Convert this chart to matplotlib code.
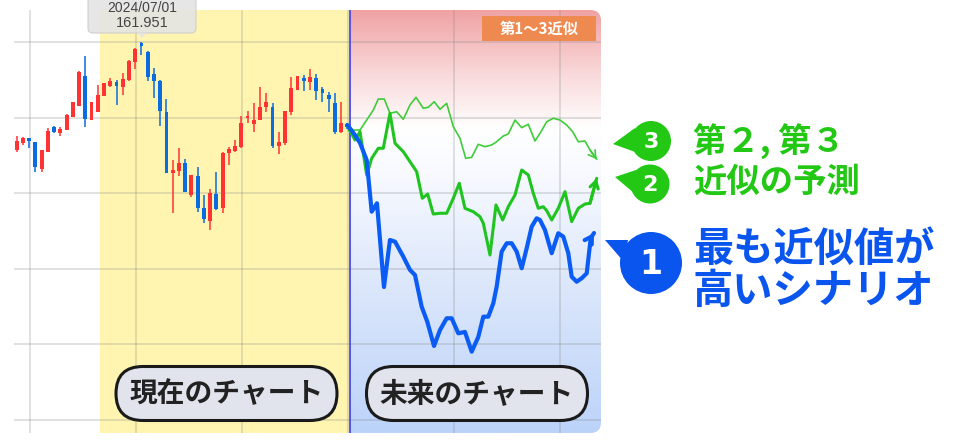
import numpy as np
import matplotlib.pyplot as plt
from matplotlib.patches import FancyBboxPatch, Circle, Polygon, Rectangle
from matplotlib.colors import LinearSegmentedColormap

plt.rcParams['font.family'] = ['Noto Sans CJK JP', 'DejaVu Sans']

# weekly candles (index 0 .. 53), price in yen
opens = [149.14, 149.98, 150.57, 150.10, 146.88, 148.94, 151.88, 151.20, 151.52, 153.07,
         154.42, 157.95, 152.71, 153.70, 155.61, 156.80, 157.27, 156.68, 157.48, 159.65,
         161.88, 160.85, 158.19, 157.39, 153.70, 146.37, 146.68, 147.63, 143.79, 146.08,
         142.20, 140.73, 143.90, 142.20, 148.79, 149.06, 149.54, 152.92, 152.24, 152.71,
         154.23, 154.23, 149.62, 149.94, 153.63, 156.29, 157.75, 157.27, 157.68, 156.37,
         155.69, 154.77, 151.32, 152.20]
highs = [150.85, 150.73, 150.61, 150.13, 149.20, 151.73, 151.99, 151.85, 153.43, 154.90,
         158.55, 160.37, 154.90, 156.88, 157.15, 157.68, 157.48, 158.31, 159.86, 161.29,
         161.95, 160.96, 158.90, 157.48, 155.21, 147.95, 149.42, 148.07, 146.20, 147.15,
         143.79, 144.50, 146.52, 148.94, 149.54, 150.33, 153.19, 153.79, 154.74, 156.68,
         155.93, 154.74, 151.29, 153.80, 157.87, 158.00, 158.07, 158.79, 158.15, 156.68,
         156.01, 155.89, 154.82, 152.36]
lows = [148.94, 149.74, 149.38, 146.56, 146.56, 148.90, 151.13, 150.85, 151.50, 153.03,
        154.40, 151.88, 152.70, 153.70, 155.60, 156.68, 154.50, 155.69, 157.40, 158.75,
        160.45, 157.39, 155.33, 152.04, 146.40, 141.68, 146.08, 144.15, 143.58, 141.80,
        140.42, 139.62, 142.00, 141.68, 147.36, 148.94, 149.38, 152.36, 151.32, 152.70,
        153.70, 149.42, 148.67, 149.74, 153.31, 156.28, 156.17, 156.29, 155.10, 154.89,
        153.70, 151.05, 151.13, 151.70]
closes = [150.21, 150.57, 150.21, 147.12, 149.14, 151.44, 151.29, 151.64, 153.31, 154.86,
          158.43, 152.83, 154.86, 155.69, 157.12, 157.36, 156.76, 157.60, 159.77, 161.13,
          161.52, 157.87, 157.39, 153.82, 146.44, 146.76, 147.63, 144.18, 146.17, 142.20,
          140.93, 144.00, 142.08, 148.79, 149.26, 149.62, 152.36, 153.11, 152.71, 154.30,
          154.89, 149.62, 150.06, 153.79, 156.49, 157.99, 157.36, 157.80, 156.20, 155.96,
          155.18, 151.32, 152.32, 151.92]

# scenario 1 (most similar)
s1_x = [53.0, 54.21, 55.02, 56.09, 56.89, 57.74, 58.86, 59.82, 60.63, 61.96,
        63.03, 63.83, 64.90, 65.80, 66.88, 67.84, 68.91, 69.71, 70.77, 71.84,
        72.92, 73.97, 74.78, 75.58, 76.38, 76.92, 77.72, 78.53, 79.33, 80.13,
        80.93, 81.73, 82.53, 83.33, 83.86, 84.66, 85.74, 86.79, 87.60, 88.40,
        88.94, 89.74, 90.54, 91.35, 91.99, 92.52]
s1_y = [152.12, 150.93, 149.98, 147.95, 141.80, 142.80, 132.83, 138.43, 138.23, 136.44,
        134.86, 134.26, 130.49, 128.70, 125.81, 127.71, 129.11, 129.11, 127.32, 127.48,
        125.13, 126.88, 129.30, 129.30, 130.89, 132.87, 137.04, 138.04, 138.04, 137.04,
        135.06, 137.44, 140.01, 141.01, 140.81, 139.62, 136.85, 139.23, 138.82, 136.85,
        134.06, 133.46, 133.87, 134.46, 138.63, 139.26]

# scenario 2
s2_x = [53.04, 54.21, 55.02, 56.09, 56.89, 57.95, 58.75, 59.82, 60.63, 61.96,
        63.03, 64.10, 65.0, 65.87, 66.76, 67.84, 68.91, 69.97, 70.93, 71.84,
        73.17, 74.25, 74.78, 75.85, 76.81, 77.88, 78.78, 79.86, 80.93, 81.99,
        82.79, 83.59, 84.39, 84.94, 85.74, 86.79, 87.87, 88.94, 90.0, 91.07,
        91.88, 92.95]
s2_y = [151.92, 150.33, 151.32, 146.17, 148.15, 149.35, 149.35, 153.51, 149.94, 148.94,
        147.75, 146.56, 143.39, 143.90, 141.52, 141.61, 141.61, 143.39, 145.18, 142.20,
        141.80, 141.20, 140.42, 136.64, 142.60, 140.81, 142.39, 143.79, 146.76, 146.17,
        143.99, 142.20, 142.39, 141.92, 140.81, 142.20, 144.18, 140.61, 142.20, 142.71,
        142.80, 145.77]

# scenario 3
s3_x = [53.04, 53.94, 55.02, 56.09, 57.15, 57.95, 58.91, 59.82, 60.90, 61.96,
        63.03, 63.99, 65.16, 65.96, 66.92, 67.84, 68.91, 69.97, 71.04, 71.96,
        72.92, 73.97, 75.05, 76.12, 76.92, 77.98, 78.78, 79.86, 80.93, 81.99,
        83.06, 84.02, 84.94, 86.0, 87.07, 88.14, 89.10, 90.0, 91.07, 91.88,
        92.95]
s3_y = [151.92, 151.52, 151.52, 152.71, 153.90, 155.21, 155.21, 153.51, 153.70, 152.80,
        154.50, 155.42, 154.11, 154.23, 154.89, 153.99, 154.70, 151.92, 150.54, 148.15,
        148.27, 149.82, 149.54, 149.74, 150.13, 150.81, 151.05, 152.71, 151.80, 152.20,
        150.21, 151.32, 152.51, 152.92, 152.71, 152.12, 151.32, 150.13, 150.21, 149.14,
        148.04]

price_grid = [117, 126, 135, 144, 153, 162]
week_grid = [2.1, 19.1, 36.1, 53.1, 70.1, 87.1]
now_idx = 53.41
past_start = 13.35

fig = plt.figure(figsize=(9.7, 4.4), dpi=100)
ax = fig.add_axes([14 / 970, 7 / 440, 587 / 970, 423 / 440])
ax.set_xlim(-0.43, 93.64)
ax.set_ylim(115.45, 165.81)
for s in ax.spines.values():
    s.set_visible(False)
ax.tick_params(length=0, labelbottom=False, labelleft=False)

# future background gradient (red -> white -> blue)
cmap = LinearSegmentedColormap.from_list('fut', [
    (0.0, '#bcd3f9'), (0.35, '#dce7fb'), (0.62, '#f8faff'), (0.72, '#ffffff'),
    (0.85, '#f9d9da'), (1.0, '#f0a2a4')])
grad = np.linspace(0, 1, 256).reshape(-1, 1)
im = ax.imshow(grad, cmap=cmap, aspect='auto', origin='lower',
               extent=[now_idx, 93.64, 115.45, 165.81], zorder=0)
clip = FancyBboxPatch((40, 115.45), 93.64 - 40, 165.81 - 115.45,
                      boxstyle='round,pad=0,rounding_size=1.7', mutation_aspect=0.74,
                      transform=ax.transData)
im.set_clip_path(clip)
ax.set_xlim(-0.43, 93.64)
ax.set_ylim(115.45, 165.81)

ax.axvspan(past_start, now_idx, color='#fff5b1', lw=0, zorder=1)

ax.set_xticks(week_grid)
ax.set_yticks(price_grid)
ax.set_axisbelow(False)
ax.grid(True, color='#8a8a8a', alpha=0.3, lw=1.2)

ax.axvline(now_idx, color='#4b4bf0', lw=1.3, zorder=3.5)

# candles
x = np.arange(len(opens))
o = np.array(opens)
c = np.array(closes)
cols = np.where(c >= o, '#ff3333', '#0b6be0')
ax.vlines(x, lows, highs, colors=cols, lw=1.1, zorder=3)
ax.bar(x, np.maximum(np.abs(c - o), 0.25), bottom=np.minimum(o, c), width=0.62,
       color=cols, zorder=3.1)

# scenario lines
lines = [(s3_x, s3_y, '#3fcc3a', 1.2), (s2_x, s2_y, '#1fc41f', 2.2), (s1_x, s1_y, '#0a5cf5', 3.0)]
for lx, ly, col, lw in lines:
    ax.plot(lx, ly, color=col, lw=lw, solid_joinstyle='round', solid_capstyle='round', zorder=5)
    ax.annotate('', xy=(lx[-1], ly[-1]), xytext=(lx[-2], ly[-2]),
                arrowprops=dict(arrowstyle='->,head_length=0.5,head_width=0.3',
                                color=col, lw=lw, shrinkA=0, shrinkB=0), zorder=5)

# overlay in pixel units for the call-outs
ov = fig.add_axes([0, 0, 1, 1], zorder=10)
ov.set_xlim(0, 970)
ov.set_ylim(440, 0)
ov.axis('off')

# tooltip
ov.add_patch(FancyBboxPatch((88, -12), 108, 45, boxstyle='round,pad=0,rounding_size=5',
                            fc='#e4e4e4', ec='#cccccc', lw=0.8, alpha=0.9))
ov.add_patch(Polygon([(137, 32.6), (142, 38), (147, 32.6)], closed=True,
                     fc='#e4e4e4', ec='none', alpha=0.9))
ov.text(142, 8, '2024/07/01', ha='center', va='center', fontsize=10, color='#444444',
        family=['Liberation Sans', 'DejaVu Sans'])
ov.text(142, 23, '161.951', ha='center', va='center', fontsize=10.5, color='#444444',
        family=['Liberation Sans', 'DejaVu Sans'])

# top-right tag
ov.add_patch(Rectangle((482, 16.5), 114, 25, fc='#ee8a50', ec='none'))
ov.text(539, 29, '第1〜3近似', ha='center', va='center', fontsize=11, color='white',
        fontweight='bold')

# bottom labels
for cx, label in [(226.5, '現在のチャート'), (477, '未来のチャート')]:
    ov.add_patch(FancyBboxPatch((cx - 110.5, 366.5), 221, 54,
                                boxstyle='round,pad=0,rounding_size=27',
                                fc='#e1e4ec', ec='#1a1a1a', lw=2.2))
    ov.text(cx, 394, label, ha='center', va='center', fontsize=20, fontweight='bold',
            color='#222222')

# speech bubbles
green = '#22c814'
blue = '#0a55ee'
bubbles = [((651, 141), 20, [(613, 144), (635, 128), (638, 153)], green, '3', 16),
           ((650, 184), 19.5, [(615, 177), (636, 170), (634, 193)], green, '2', 16),
           ((651, 263), 31, [(605, 240), (628, 240), (624, 262)], blue, '1', 24)]
for center, r, tail, col, num, fs in bubbles:
    ov.add_patch(Circle(center, r, fc=col, ec='none'))
    ov.add_patch(Polygon(tail, closed=True, fc=col, ec='none'))
    ov.text(center[0], center[1] + 1, num, ha='center', va='center', color='white',
            fontsize=fs, fontweight='bold', family=['DejaVu Sans'])

ov.text(693, 142, '第２, 第３', ha='left', va='center', fontsize=24, fontweight='bold', color=green)
ov.text(693, 182, '近似の予測', ha='left', va='center', fontsize=24, fontweight='bold', color=green)
ov.text(693, 250, '最も近似値が', ha='left', va='center', fontsize=29, fontweight='bold', color=blue)
ov.text(693, 291, '高いシナリオ', ha='left', va='center', fontsize=29, fontweight='bold', color=blue)

fig.savefig('out.png', dpi=100)
